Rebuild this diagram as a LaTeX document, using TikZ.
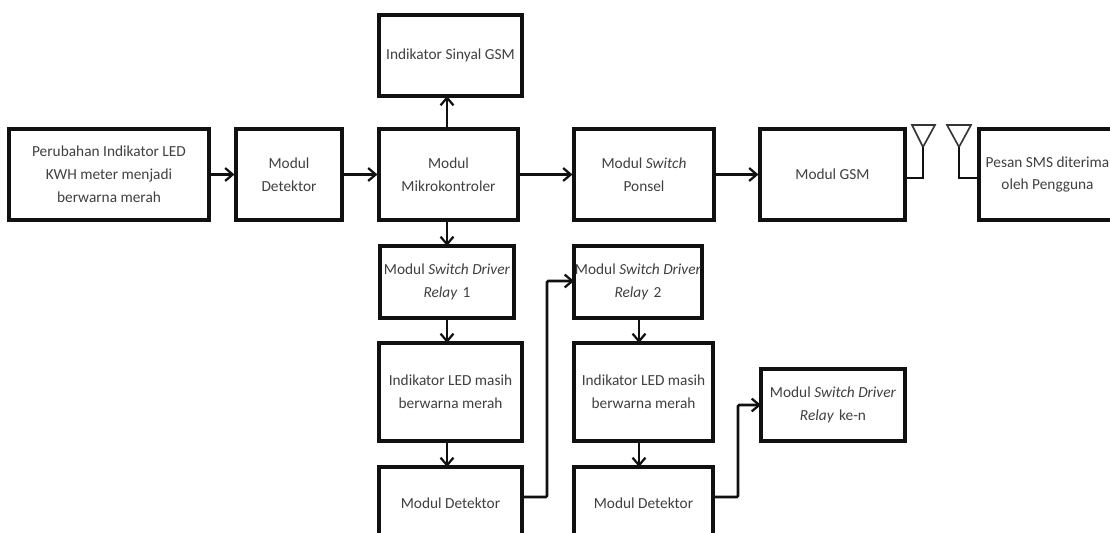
\documentclass[tikz,border=0pt]{standalone}
\usepackage{fontspec}
\setmainfont{Carlito}
\usetikzlibrary{arrows.meta,calc}
\definecolor{inkline}{HTML}{111111}
\definecolor{inktext}{HTML}{404040}
\tikzset{
  x=0.03cm,y=-0.03cm,
  blockbox/.style={draw=inkline,line width=2.6pt,fill=white,align=center,inner sep=0pt,text=inktext,font=\fontsize{13.1}{19.5}\selectfont},
  flow/.style={draw=inkline,line width=2.2pt,-{Straight Barb[length=6.5pt,width=11pt,line width=1.9pt]}},
  wire/.style={draw=inkline,line width=1.9pt},
  aerial/.style={draw=inkline!85,line width=1.4pt,line join=miter}
}
\newcommand{\blk}[6]{\node[blockbox,minimum width={(#4-#3)*0.03cm},minimum height={(#6-#5)*0.03cm}] (#1) at ({(#3+#4)/2},{(#5+#6)/2}) {#2};}
\begin{document}
\begin{tikzpicture}
\useasboundingbox (0,0) rectangle (1110,533);
\clip (0,0) rectangle (1110,533);
\fill[white] (0,0) rectangle (1110,533);
\blk{led}{Perubahan Indikator LED\\KWH meter menjadi\\berwarna merah}{9}{209}{129}{220}
\blk{det}{Modul\\Detektor}{236}{342}{129}{220}
\blk{mcu}{Modul\\Mikrokontroler}{379}{518}{129}{220}
\blk{sig}{Indikator Sinyal GSM}{379}{522}{15}{96}
\blk{pon}{Modul \textit{Switch}\\Ponsel}{574}{714}{129}{220}
\blk{gsm}{Modul GSM}{760}{905}{129}{220}
\blk{sms}{Pesan SMS diterima\\oleh Pengguna}{979}{1116}{129}{220}
\blk{rlya}{Modul \textit{Switch Driver}\\\textit{Relay}\,\,1}{380}{514}{246}{318}
\blk{ledb}{Indikator LED masih\\berwarna merah}{379}{522}{343}{441}
\blk{dtb}{Modul Detektor}{379}{522}{467}{539}
\blk{rlyb}{Modul \textit{Switch Driver}\\\textit{Relay}\,\,2}{574}{702}{246}{318}
\blk{ledc}{Indikator LED masih\\berwarna merah}{574}{713}{343}{441}
\blk{dtc}{Modul Detektor}{574}{713}{467}{539}
\blk{rlyn}{Modul \textit{Switch Driver}\\\textit{Relay}\,\,ke-n}{761}{905}{369}{441}
\draw[flow] (led.east) -- (det.west);
\draw[flow] (det.east) -- (mcu.west);
\draw[flow] (mcu.east) -- (pon.west);
\draw[flow] (pon.east) -- (gsm.west);
\draw[flow] (447,129) -- (447,96);
\draw[flow] (447,220) -- (447,246);
\draw[flow] (447,318) -- (447,343);
\draw[flow] (447,441) -- (447,467);
\draw[flow] (639,318) -- (639,343);
\draw[flow] (639,441) -- (639,467);
\draw[flow,rounded corners=1pt] (522,497) -- (547,497) -- (547,281) -- (574,281);
\draw[flow,rounded corners=1pt] (713,497) -- (738,497) -- (738,405) -- (761,405);
\coordinate (ta) at (923,147);
\coordinate (tb) at (959,147);
\draw[aerial] (912,125) -- (935,125) -- (ta) -- cycle;
\draw[aerial] (947,125) -- (971,125) -- (tb) -- cycle;
\draw[wire] (ta) -- (923,178) -- (905,178);
\draw[wire] (tb) -- (959,178) -- (979,178);
\end{tikzpicture}
\end{document}
